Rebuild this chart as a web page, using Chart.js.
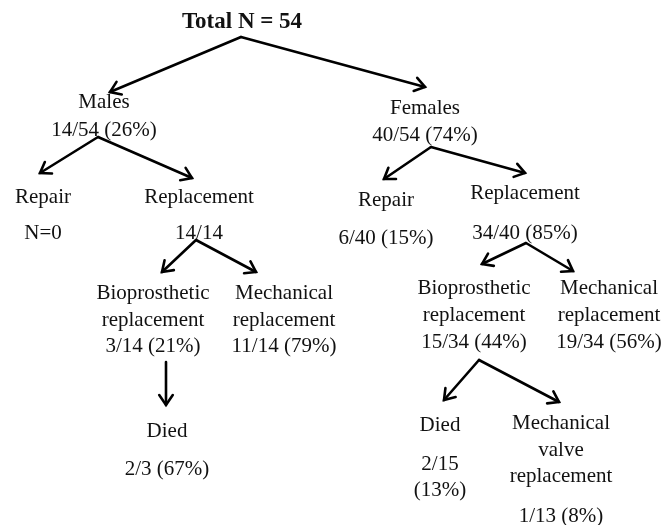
<!DOCTYPE html>
<html>
<head>
  <meta charset="utf-8">
  <title>Flow</title>
  <script src="https://cdn.jsdelivr.net/npm/chart.js@4.4.1/dist/chart.umd.min.js"></script>
  <style>
    body { margin: 0; background: #fff; }
    #wrap { width: 664px; height: 525px; }
  </style>
</head>
<body>
  <div id="wrap"><canvas id="myChart" width="664" height="525"></canvas></div>
  <script type="text/javascript">
    // text lines of the tree
    var labels = [
      "Total N = 54",
      "Males", "14/54 (26%)",
      "Females", "40/54 (74%)",
      "Repair", "N=0",
      "Replacement", "14/14",
      "Repair", "6/40 (15%)",
      "Replacement", "34/40 (85%)",
      "Bioprosthetic", "replacement", "3/14 (21%)",
      "Mechanical", "replacement", "11/14 (79%)",
      "Bioprosthetic", "replacement", "15/34 (44%)",
      "Mechanical", "replacement", "19/34 (56%)",
      "Died", "2/3 (67%)",
      "Died", "2/15", "(13%)",
      "Mechanical", "valve", "replacement", "1/13 (8%)"
    ];
    var labelX = [
      242,
      104, 104,
      425, 425,
      43, 43,
      199, 199,
      386, 386,
      525, 525,
      153, 153, 153,
      284, 284, 284,
      474, 474, 474,
      609, 609, 609,
      167, 167,
      440, 440, 440,
      561, 561, 561, 561
    ];
    var labelY = [
      22,
      102, 130,
      108, 135,
      197, 233,
      197, 233,
      200, 238,
      193, 233,
      293, 320, 346,
      293, 320, 346,
      288, 315, 342,
      288, 315, 342,
      431, 469,
      425, 464, 490,
      423, 450, 476, 516
    ];

    // arrows: start and tip
    var arrowFromX = [241, 241, 98, 98, 431, 431, 196, 196, 526, 526, 166, 479, 479];
    var arrowFromY = [37, 37, 137, 137, 147, 147, 240, 240, 243, 243, 362, 360, 360];
    var arrowToX = [110, 425, 40, 192, 384, 525, 162, 256, 482, 573, 166, 444, 559];
    var arrowToY = [92, 87, 173, 178, 179, 173, 272, 272, 264, 271, 405, 400, 402];

    var ctx = document.getElementById("myChart");

    var datasets = [];
    datasets.push({
      label: "nodes",
      data: labels.map(function(t, i) { return {x: labelX[i], y: labelY[i]}; }),
      pointRadius: 0,
      showLine: false
    });
    for (var i = 0; i < arrowFromX.length; i++) {
      datasets.push({
        label: "arrow" + i,
        data: [{x: arrowFromX[i], y: arrowFromY[i]}, {x: arrowToX[i], y: arrowToY[i]}],
        showLine: true,
        borderColor: "#000",
        borderWidth: 2.6,
        pointRadius: 0,
        borderCapStyle: "round",
        clip: false
      });
    }

    var treePlugin = {
      id: "tree",
      afterDatasetsDraw: function(chart) {
        var c = chart.ctx;
        c.save();
        // arrow heads
        c.strokeStyle = "#000";
        c.lineWidth = 2.6;
        c.lineCap = "round";
        c.lineJoin = "miter";
        for (var d = 1; d < chart.data.datasets.length; d++) {
          var pts = chart.getDatasetMeta(d).data;
          var a = pts[0], b = pts[1];
          var ang = Math.atan2(b.y - a.y, b.x - a.x);
          var len = 12, spread = 0.6;
          c.beginPath();
          c.moveTo(b.x - len * Math.cos(ang - spread), b.y - len * Math.sin(ang - spread));
          c.lineTo(b.x, b.y);
          c.lineTo(b.x - len * Math.cos(ang + spread), b.y - len * Math.sin(ang + spread));
          c.stroke();
        }
        // texts
        var nodes = chart.getDatasetMeta(0).data;
        c.fillStyle = "#111";
        c.textAlign = "center";
        c.textBaseline = "middle";
        for (var k = 0; k < labels.length; k++) {
          c.font = k === 0 ? "bold 23px 'Liberation Serif'" : "21px 'Liberation Serif'";
          c.fillText(labels[k], nodes[k].x, nodes[k].y);
        }
        c.restore();
      }
    };

    var chart = new Chart(ctx, {
      type: "scatter",
      data: { datasets: datasets },
      options: {
        responsive: false,
        animation: false,
        layout: { padding: 0 },
        plugins: { legend: { display: false }, tooltip: { enabled: false } },
        scales: {
          x: { type: "linear", min: 0, max: 664, display: false },
          y: { type: "linear", min: 0, max: 525, reverse: true, display: false }
        }
      },
      plugins: [treePlugin]
    });
  </script>
</body>
</html>
